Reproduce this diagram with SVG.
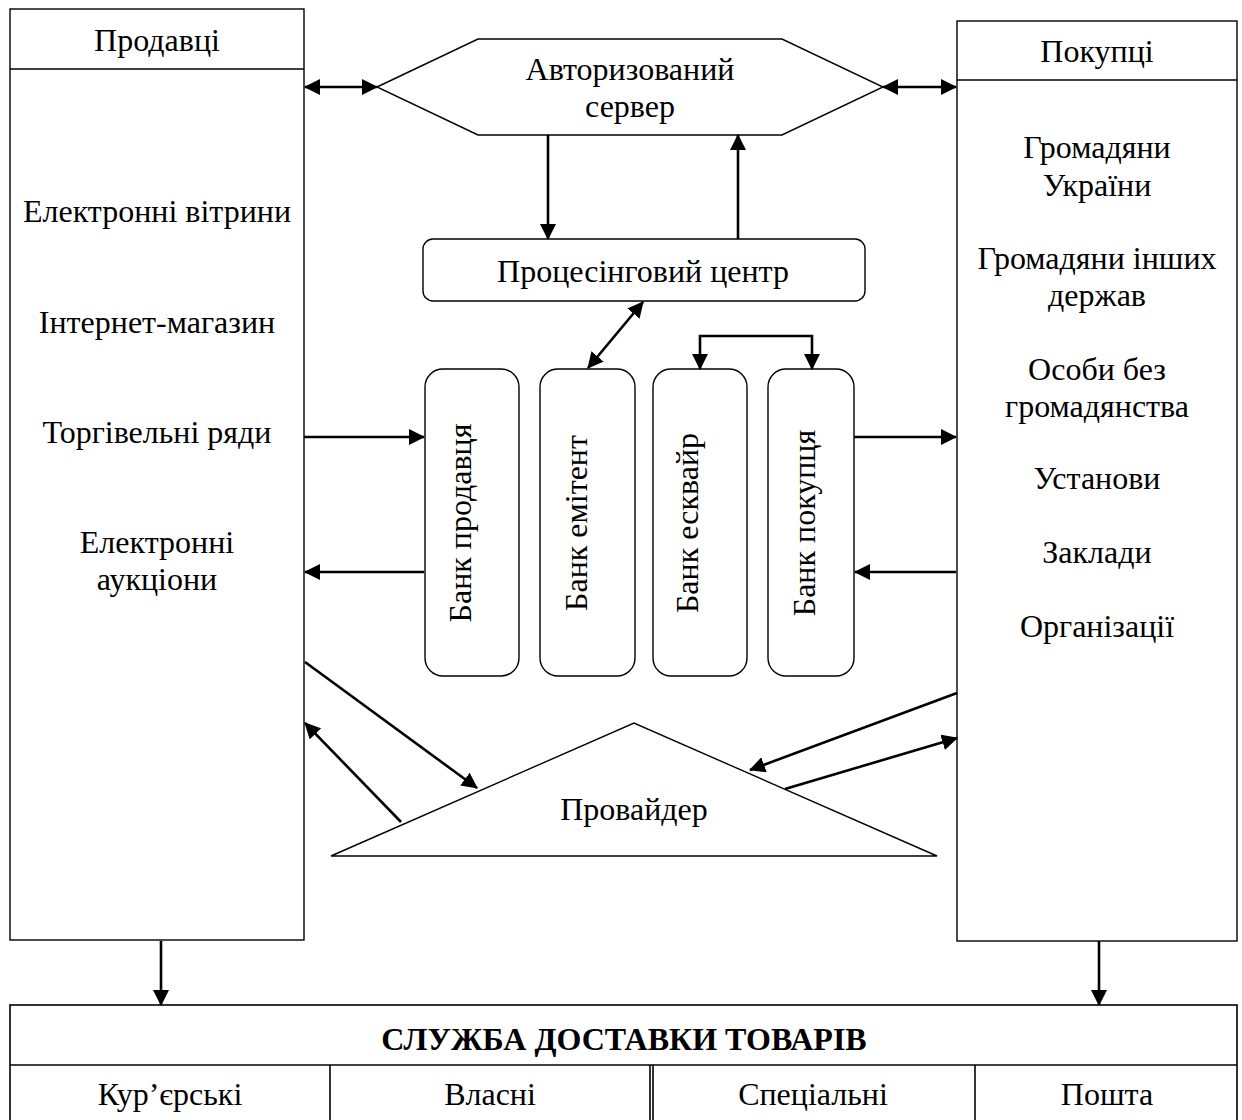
<svg xmlns="http://www.w3.org/2000/svg" width="1242" height="1120" viewBox="0 0 1242 1120">
  <style>
    .shape { fill: #fff; stroke: #000; stroke-width: 1.4; }
    .rule { fill: none; stroke: #000; stroke-width: 1.6; }
    .link { fill: none; stroke: #000; stroke-width: 2.6; }
    .one { marker-end: url(#ah); }
    .two { marker-start: url(#ah); marker-end: url(#ah); }
    text { font-family: "Liberation Serif", "Times New Roman", serif; font-size: 32px; fill: #000; text-anchor: middle; }
    .bold { font-weight: bold; font-size: 32px; }
  </style>
  <defs>
    <marker id="ah" viewBox="0 0 16 16" refX="15" refY="8" markerWidth="16" markerHeight="16" markerUnits="userSpaceOnUse" orient="auto-start-reverse">
      <path d="M0,0 L16,8 L0,16 z" fill="#000"/>
    </marker>
  </defs>

  <rect width="1242" height="1120" fill="#fff"/>

  <!-- Sellers -->
  <g id="sellers">
    <rect class="shape" x="10" y="9" width="294" height="931"/>
    <line class="shape" x1="10" y1="69" x2="304" y2="69"/>
    <text x="157" y="51">Продавці</text>
    <text x="157" y="222">Електронні вітрини</text>
    <text x="157" y="333">Інтернет-магазин</text>
    <text x="157" y="443">Торгівельні ряди</text>
    <text x="157" y="553">Електронні</text>
    <text x="157" y="590">аукціони</text>
  </g>

  <!-- Buyers -->
  <g id="buyers">
    <rect class="shape" x="957" y="21" width="280" height="920"/>
    <line class="shape" x1="957" y1="80" x2="1237" y2="80"/>
    <text x="1097" y="62">Покупці</text>
    <text x="1097" y="158">Громадяни</text>
    <text x="1097" y="196">України</text>
    <text x="1097" y="269">Громадяни інших</text>
    <text x="1097" y="306">держав</text>
    <text x="1097" y="380">Особи без</text>
    <text x="1097" y="417">громадянства</text>
    <text x="1097" y="489">Установи</text>
    <text x="1097" y="563">Заклади</text>
    <text x="1097" y="637">Організації</text>
  </g>

  <!-- Authorization server -->
  <g id="auth-server">
    <polygon class="shape" points="377,87 478,39 782,39 883,87 782,135 478,135"/>
    <text x="630" y="80">Авторизований</text>
    <text x="630" y="117">сервер</text>
  </g>

  <!-- Processing center -->
  <g id="processing">
    <rect class="shape" x="423" y="239" width="442" height="62" rx="10"/>
    <text x="643" y="282">Процесінговий центр</text>
  </g>

  <!-- Banks -->
  <g id="bank-seller">
    <rect class="shape" x="425" y="369" width="94" height="307" rx="18"/>
    <text transform="translate(471,523) rotate(-90)">Банк продавця</text>
  </g>
  <g id="bank-issuer">
    <rect class="shape" x="540" y="369" width="95" height="307" rx="18"/>
    <text transform="translate(587,523) rotate(-90)">Банк емітент</text>
  </g>
  <g id="bank-acquirer">
    <rect class="shape" x="653" y="369" width="94" height="307" rx="18"/>
    <text transform="translate(698,523) rotate(-90)">Банк есквайр</text>
  </g>
  <g id="bank-buyer">
    <rect class="shape" x="768" y="369" width="86" height="307" rx="18"/>
    <text transform="translate(815,523) rotate(-90)">Банк покупця</text>
  </g>

  <!-- Provider -->
  <g id="provider">
    <polygon class="shape" points="331,856 634,723 937,856"/>
    <text x="634" y="820">Провайдер</text>
  </g>

  <!-- Delivery service -->
  <g id="delivery">
    <rect class="rule" x="10" y="1005" width="1227" height="130" fill="#fff"/>
    <line class="rule" x1="10" y1="1065" x2="1237" y2="1065"/>
    <line class="rule" x1="330" y1="1065" x2="330" y2="1120"/>
    <line class="rule" x1="650" y1="1065" x2="650" y2="1120"/>
    <line class="rule" x1="653" y1="1065" x2="653" y2="1120"/>
    <line class="rule" x1="975" y1="1065" x2="975" y2="1120"/>
    <text class="bold" x="624" y="1050">СЛУЖБА ДОСТАВКИ ТОВАРІВ</text>
    <text x="170" y="1105">Кур’єрські</text>
    <text x="490" y="1105">Власні</text>
    <text x="813" y="1105">Спеціальні</text>
    <text x="1107" y="1105">Пошта</text>
  </g>

  <!-- Connectors -->
  <g id="connectors">
    <line class="link two" x1="305" y1="87" x2="377" y2="87"/>
    <line class="link two" x1="883" y1="87" x2="956" y2="87"/>
    <line class="link one" x1="548" y1="135" x2="548" y2="239"/>
    <line class="link one" x1="738" y1="239" x2="738" y2="135"/>
    <line class="link two" x1="643" y1="302" x2="588" y2="368"/>
    <path class="link two" d="M700,369 V336 H812 V369"/>
    <line class="link one" x1="304" y1="437" x2="424" y2="437"/>
    <line class="link one" x1="424" y1="572" x2="305" y2="572"/>
    <line class="link one" x1="854" y1="437" x2="956" y2="437"/>
    <line class="link one" x1="956" y1="572" x2="855" y2="572"/>
    <line class="link one" x1="305" y1="662" x2="477" y2="788"/>
    <line class="link one" x1="401" y1="822" x2="305" y2="723"/>
    <line class="link one" x1="957" y1="693" x2="750" y2="770"/>
    <line class="link one" x1="785" y1="789" x2="957" y2="738"/>
    <line class="link one" x1="161" y1="941" x2="161" y2="1005"/>
    <line class="link one" x1="1099" y1="941" x2="1099" y2="1005"/>
  </g>
</svg>
